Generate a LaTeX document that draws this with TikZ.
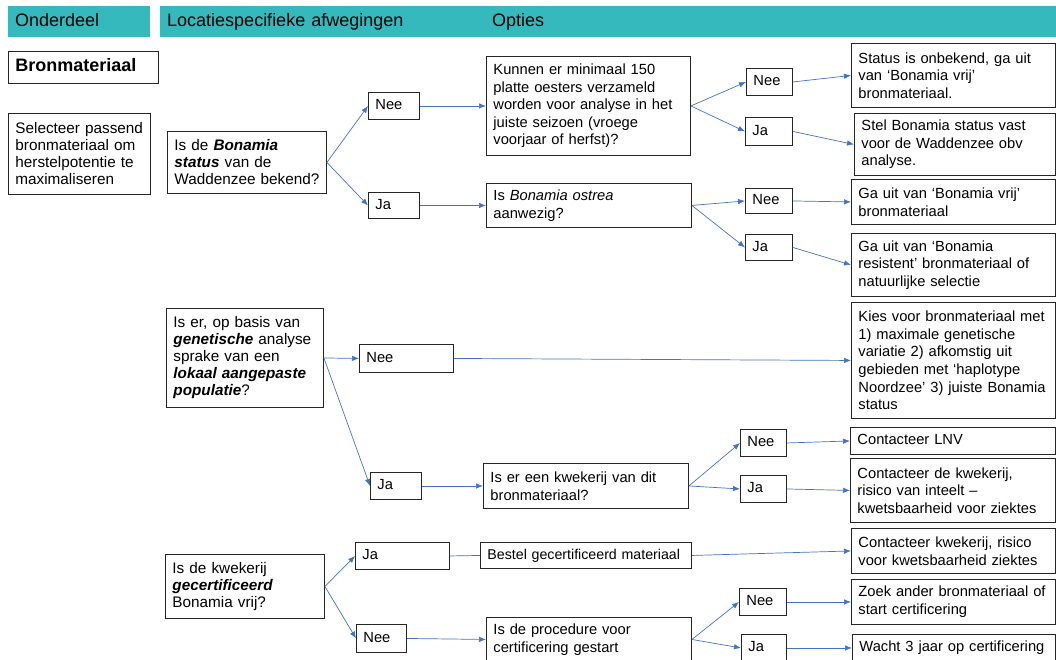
\documentclass[tikz,border=0pt]{standalone}
\usepackage{fontspec}
\setmainfont{Liberation Sans}
\usepackage{xcolor}
\usetikzlibrary{arrows.meta}
\definecolor{hdrteal}{RGB}{54,185,188}
\definecolor{lineblue}{RGB}{68,114,196}

\begin{document}
\begin{tikzpicture}[x=1pt, y=-1pt,
  hdr/.style={fill=hdrteal, anchor=north west, inner xsep=2pt, inner ysep=0pt,
    align=left, text height=13pt, text depth=4pt, font=\fontsize{18}{21}\selectfont},
  box/.style={draw=black!85, line width=0.9pt, anchor=north west, inner xsep=2pt,
    inner ysep=0pt, align=left, font=\fontsize{14.7}{17.6}\selectfont},
  lq/.style={font=\fontsize{15.3}{17}\selectfont},
  one/.style={text height=10.5pt, text depth=3pt},
  wh/.style 2 args={minimum width=#1pt, minimum height=#2pt, text width=#1pt-14pt},
  link/.style={->, draw=lineblue, line width=0.7pt},
  >={Latex[length=7pt,width=5.5pt]}
]
  \useasboundingbox (0,0) rectangle (1056,659);
  \clip (0,0) rectangle (1056,659);

  \node[hdr, wh={142}{31}] (hOnd) at (8,6) {Onderdeel};
  \node[hdr, wh={325}{31}] (hLoc) at (160,6) {Locatiespecifieke afwegingen};
  \node[hdr, wh={571}{31}] (hOpt) at (485,6) {Opties};

  \node[box, one, wh={150}{32}, font=\fontsize{18}{21}\selectfont\bfseries] (bron) at (8,51) {Bronmateriaal};
  \node[box, lq, wh={142}{81}] (sel) at (8,113) {Selecteer passend\\bronmateriaal om\\herstelpotentie te\\maximaliseren};

  \node[box, lq, wh={159}{62}] (q1) at (167,131) {Is de \textbf{\textit{Bonamia}}\\\textbf{\textit{status}} van de\\Waddenzee bekend?};
  \node[box, one, wh={51}{27}] (nee1) at (368,92) {Nee};
  \node[box, one, wh={51}{26}] (ja1) at (368,192) {Ja};
  \node[box, wh={204}{99}] (q2) at (486,56) {Kunnen er minimaal 150\\platte oesters verzameld\\worden voor analyse in het\\juiste seizoen (vroege\\voorjaar of herfst)?};
  \node[box, wh={205}{44}] (q3) at (486,183) {Is \textit{Bonamia ostrea}\\aanwezig?};
  \node[box, one, wh={46}{27}] (nee2) at (746,68) {Nee};
  \node[box, one, wh={47}{28}] (ja2) at (745,117) {Ja};
  \node[box, one, wh={47}{25}] (nee3) at (745,188) {Nee};
  \node[box, one, wh={47}{26}] (ja3) at (745,234) {Ja};
  \node[box, wh={204}{64}] (r1) at (851,43) {Status is onbekend, ga uit\\van ‘Bonamia vrij’\\bronmateriaal.};
  \node[box, wh={201}{62}] (r2) at (854,113) {Stel Bonamia status vast\\voor de Waddenzee obv\\analyse.};
  \node[box, wh={204}{45}] (r3) at (851,179) {Ga uit van ‘Bonamia vrij’\\bronmateriaal};
  \node[box, wh={204}{63}] (r4) at (851,233) {Ga uit van ‘Bonamia\\resistent’ bronmateriaal of\\natuurlijke selectie};

  \node[box, lq, wh={157}{99}] (q4) at (166,308) {Is er, op basis van\\\textbf{\textit{genetische}} analyse\\sprake van een\\\textbf{\textit{lokaal aangepaste}}\\\textbf{\textit{populatie}}?};
  \node[box, one, wh={94}{28}] (nee4) at (359,344) {Nee};
  \node[box, wh={204}{116}] (r5) at (851,302) {Kies voor bronmateriaal met\\1) maximale genetische\\variatie 2) afkomstig uit\\gebieden met ‘haplotype\\Noordzee’ 3) juiste Bonamia\\status};
  \node[box, one, wh={51}{27}] (ja4) at (370,472) {Ja};
  \node[box, wh={205}{45}] (q5) at (483,463) {Is er een kwekerij van dit\\bronmateriaal?};
  \node[box, one, wh={46}{27}] (nee5) at (740,429) {Nee};
  \node[box, one, wh={46}{27}] (ja5) at (740,475) {Ja};
  \node[box, one, wh={205}{27}] (r6) at (850,427) {Contacteer LNV};
  \node[box, wh={205}{64}] (r7) at (850,458) {Contacteer de kwekerij,\\risico van inteelt –\\kwetsbaarheid voor ziektes};

  \node[box, lq, wh={159}{64}] (q6) at (165,554) {Is de kwekerij\\\textbf{\textit{gecertificeerd}}\\Bonamia vrij?};
  \node[box, one, wh={94}{27}] (ja6) at (355,542) {Ja};
  \node[box, one, wh={50}{28}] (nee6) at (356,624) {Nee};
  \node[box, one, wh={211}{26}, font=\fontsize{14.2}{17}\selectfont] (best) at (480,542) {Bestel gecertificeerd materiaal};
  \node[box, wh={205}{44}] (q7) at (486,617) {Is de procedure voor\\certificering gestart};
  \node[box, wh={204}{45}] (r8) at (851,528) {Contacteer kwekerij, risico\\voor kwetsbaarheid ziektes};
  \node[box, one, wh={47}{27}] (nee7) at (739,588) {Nee};
  \node[box, one, wh={45}{27}] (ja7) at (741,634) {Ja};
  \node[box, wh={204}{45}] (r9) at (851,579) {Zoek ander bronmateriaal of\\start certificering};
  \node[box, one, wh={203}{27}] (r10) at (852,634) {Wacht 3 jaar op certificering};

  \draw[link] (q1.east) -- (nee1.west);
  \draw[link] (q1.east) -- (ja1.west);
  \draw[link] (nee1.east) -- (q2.west);
  \draw[link] (ja1.east) -- (q3.west);
  \draw[link] (q2.east) -- (nee2.west);
  \draw[link] (q2.east) -- (ja2.west);
  \draw[link] (nee2.east) -- (r1.west);
  \draw[link] (ja2.east) -- (r2.west);
  \draw[link] (q3.east) -- (nee3.west);
  \draw[link] (q3.east) -- (ja3.west);
  \draw[link] (nee3.east) -- (r3.west);
  \draw[link] (ja3.east) -- (r4.west);
  \draw[link] (q4.east) -- (nee4.west);
  \draw[link] (q4.east) -- (ja4.west);
  \draw[link] (nee4.east) -- (r5.west);
  \draw[link] (ja4.east) -- (q5.west);
  \draw[link] (q5.east) -- (nee5.west);
  \draw[link] (q5.east) -- (ja5.west);
  \draw[link] (nee5.east) -- (r6.west);
  \draw[link] (ja5.east) -- (r7.west);
  \draw[link] (q6.east) -- (ja6.west);
  \draw[link] (q6.east) -- (nee6.west);
  \draw[link, -] (ja6.east) -- (best.west);
  \draw[link] (best.east) -- (r8.west);
  \draw[link] (nee6.east) -- (q7.west);
  \draw[link] (q7.east) -- (nee7.west);
  \draw[link] (q7.east) -- (ja7.west);
  \draw[link] (nee7.east) -- (r9.west);
  \draw[link] (ja7.east) -- (r10.west);
\end{tikzpicture}
\end{document}
